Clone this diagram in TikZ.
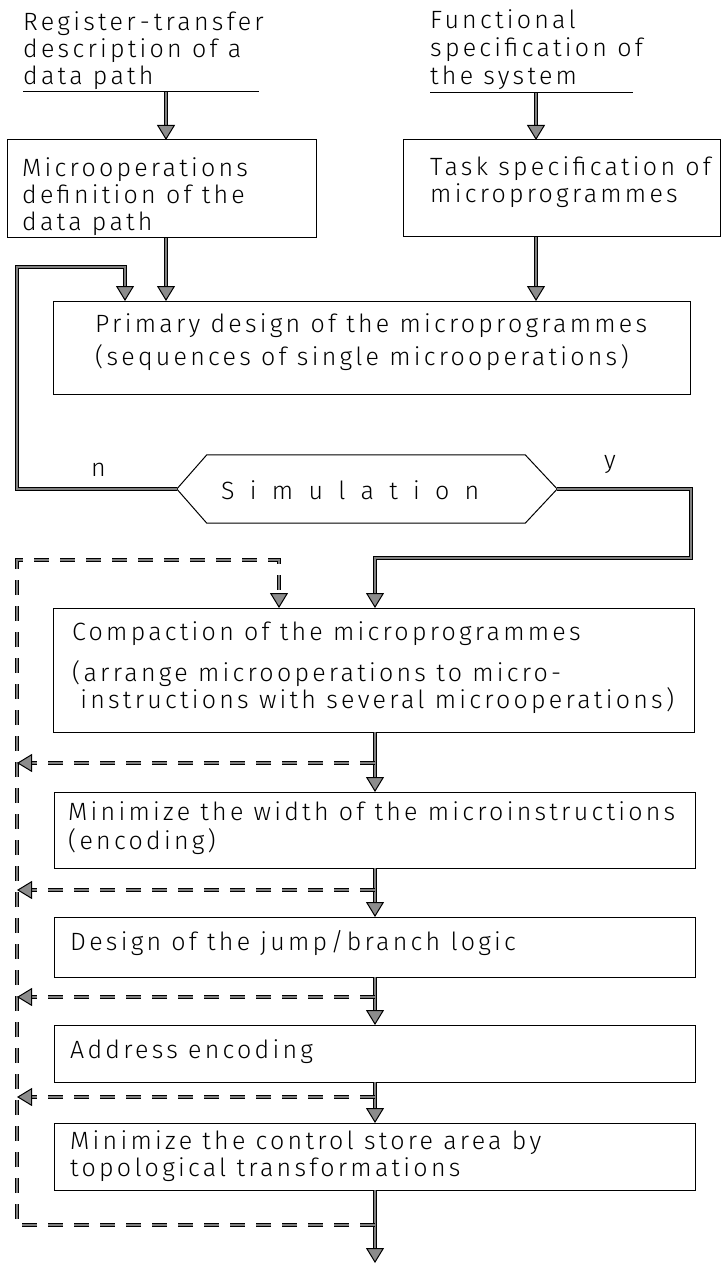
\documentclass[tikz,border=0pt]{standalone}
\usepackage{fontspec}
\setmainfont{Fira Sans Light}[LetterSpace=13]
\usetikzlibrary{arrows.meta}
\newcommand\dfont{\fontsize{25}{27}\selectfont}
\tikzset{
  box/.style={draw, line width=1pt, inner sep=0pt, outer sep=0pt},
  txt/.style={inner sep=0pt, anchor=west, align=left, font=\dfont},
  conn/.style={draw, line width=1pt, double=black!50, double distance=1.4pt},
  dconn/.style={conn, dash pattern=on 15pt off 11pt},
  arr/.style={-{Triangle[width=18pt,length=15pt,fill=black!45,line width=1pt]}},
  uline/.style={draw, line width=1pt}
}
\begin{document}
\begin{tikzpicture}[x=1pt,y=-1pt]
\useasboundingbox[fill=white] (0,0) rectangle (722,1265);

% columns
\coordinate (colA) at (166,0);
\coordinate (colB) at (536,0);
\coordinate (colM) at (375,0);
\coordinate (colL) at (17,0);
\coordinate (colN) at (125,0);
\coordinate (colD) at (279,0);

% top inputs
\node[txt] (inL) at (23,51) {Register\,-\,transfer\\description of a\\data path};
\coordinate (ulLa) at (23,92);
\coordinate (ulLb) at (259,92);
\draw[uline] (ulLa) -- (ulLb);

\node[txt, font=\fontsize{25}{28}\selectfont] (inR) at (430,49.5) {Functional\\specification of\\the system};
\coordinate (ulRa) at (430,93);
\coordinate (ulRb) at (633,93);
\draw[uline] (ulRa) -- (ulRb);

% boxes
\node[box, anchor=north west, minimum width=309pt, minimum height=98pt] (b1) at (7,140) {};
\node[txt] (b1t) at (22,197) {Microoperations\\definition of the\\data path};

\node[box, anchor=north west, minimum width=317.5pt, minimum height=97pt] (b2) at (403,140) {};
\node[txt] (b2t) at (430,182.5) {Task specification of\\microprogrammes};

\node[box, anchor=north west, minimum width=637pt, minimum height=93pt] (prim) at (53,301) {};
\node[txt, font=\fontsize{25}{33}\selectfont] (primt) at (95,342.5) {Primary design of the microprogrammes\\(sequences of single microoperations)};

% simulation hexagon
\node[inner sep=0pt, minimum width=380pt, minimum height=68pt] (sim) at (367,489) {};
\draw[line width=1pt] (sim.west) -- ([xshift=30pt]sim.north west) -- ([xshift=-32pt]sim.north east)
  -- (sim.east) -- ([xshift=-32pt]sim.south east) -- ([xshift=30pt]sim.south west) -- cycle;
\node[txt] (simt) at (221,490) {\makebox[258pt][s]{S i m u l a t i o n}};
\node[txt] (nlab) at (91,470) {n};
\node[txt] (ylab) at (604,465) {y};

\node[box, anchor=north west, minimum width=641pt, minimum height=124pt] (comp) at (53,608) {};
\node[txt] (compt1) at (72,634) {Compaction of the microprogrammes};
\node[txt] (compt2) at (72,687.5) {(arrange microoperations to micro-\\\phantom{(}instructions with several microoperations)};

\node[box, anchor=north west, minimum width=641pt, minimum height=76pt] (min1) at (54,792) {};
\node[txt, font=\fontsize{25}{29}\selectfont] (min1t) at (68,828.5) {Minimize the width of the microinstructions\\(encoding)};

\node[box, anchor=north west, minimum width=641pt, minimum height=60pt] (jump) at (54,917) {};
\node[txt] (jumpt) at (70,943) {Design of the jump/branch logic};

\node[box, anchor=north west, minimum width=641pt, minimum height=57pt] (addr) at (54,1025) {};
\node[txt] (addrt) at (70,1052) {Address encoding};

\node[box, anchor=north west, minimum width=641pt, minimum height=67pt] (min2) at (54,1123) {};
\node[txt] (min2t) at (70,1156.5) {Minimize the control store area by\\topological transformations};

% solid connectors
\draw[conn,arr] (ulLa -| colA) -- (b1.north -| colA);
\draw[conn,arr] (ulRa -| colB) -- (b2.north -| colB);
\draw[conn,arr] (b1.south -| colA) -- (prim.north -| colA);
\draw[conn,arr] (b2.south -| colB) -- (prim.north -| colB);

\coordinate (lt) at (17,267);
\draw[conn,arr] (sim.west) -| (lt) -| (prim.north -| colN);

\coordinate (yr) at (691,558);
\draw[conn,arr] (sim.east) -| (yr) -| (comp.north -| colM);

\draw[conn,arr] (comp.south -| colM) -- (min1.north -| colM);
\draw[conn,arr] (min1.south -| colM) -- (jump.north -| colM);
\draw[conn,arr] (jump.south -| colM) -- (addr.north -| colM);
\draw[conn,arr] (addr.south -| colM) -- (min2.north -| colM);
\coordinate (endc) at (375,1263);
\draw[conn,arr] (min2.south -| colM) -- (endc);

% dashed feedback
\coordinate (j1) at (375,763);
\coordinate (j2) at (375,890);
\coordinate (j3) at (375,997);
\coordinate (j4) at (375,1097);
\coordinate (bj) at (375,1225);
\coordinate (dt) at (17,560);
\draw[dconn,arr] (bj) -| (dt) -| (comp.north -| colD);
\draw[dconn,arr] (j1) -- (j1 -| colL);
\draw[dconn,arr] (j2) -- (j2 -| colL);
\draw[dconn,arr] (j3) -- (j3 -| colL);
\draw[dconn,arr] (j4) -- (j4 -| colL);
\end{tikzpicture}
\end{document}
